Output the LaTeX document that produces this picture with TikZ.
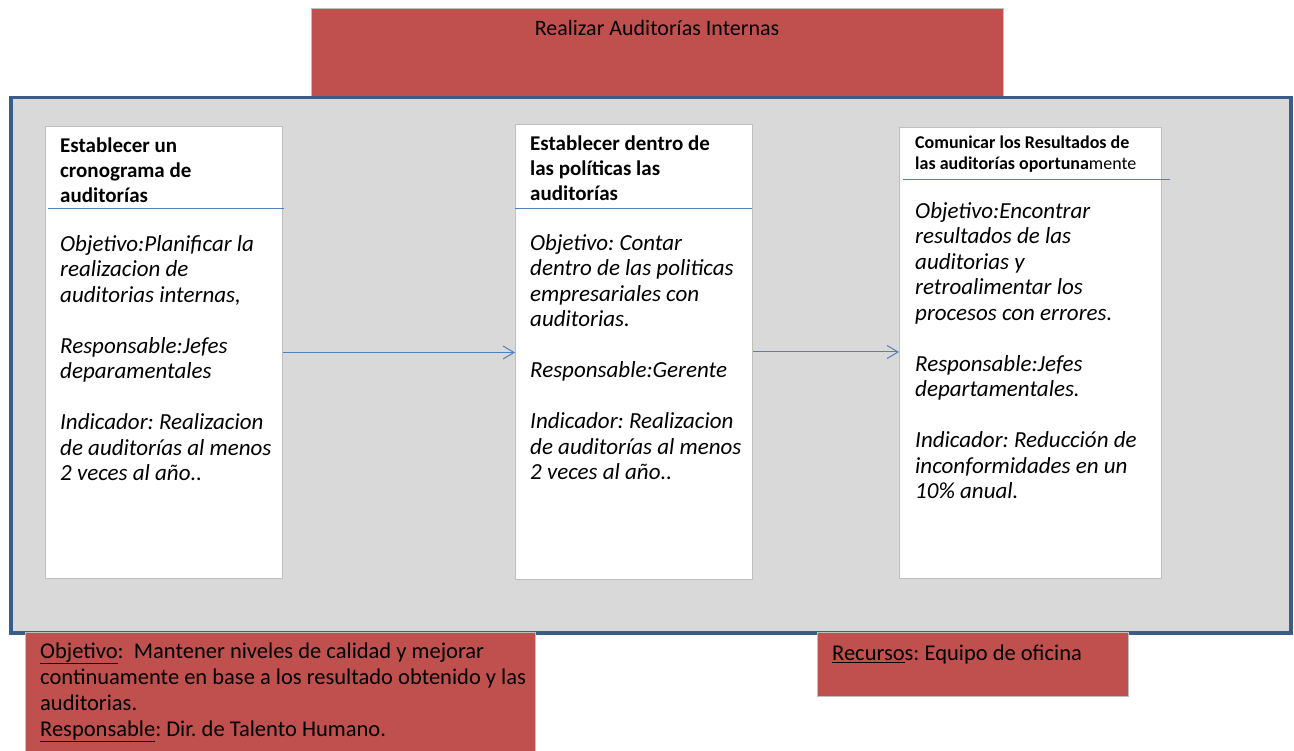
\documentclass[tikz,border=0pt]{standalone}
\usepackage{fontspec}
\setmainfont{Carlito}
\usetikzlibrary{positioning, arrows.meta}

\definecolor{rojoCaja}{HTML}{C0504D}
\definecolor{grisFondo}{HTML}{D9D9D9}
\definecolor{grisBorde}{HTML}{BFBFBF}
\definecolor{azulMarco}{HTML}{385D8A}
\definecolor{azulLinea}{HTML}{4F81BD}

\frenchspacing

\begin{document}
\begin{tikzpicture}[
  x=1pt, y=-1pt,
  caja/.style={rectangle, draw=grisBorde, line width=1pt, fill=white, anchor=north west, inner sep=0pt},
  rojo/.style={rectangle, draw=grisBorde, line width=1pt, fill=rojoCaja, anchor=north west, inner sep=0pt},
  marco/.style={rectangle, draw=azulMarco, line width=3.5pt, fill=grisFondo, anchor=north west, inner sep=0pt},
  titulo/.style={anchor=north west, inner sep=0pt, align=left, font=\fontsize{21}{25}\selectfont\bfseries},
  texto/.style={anchor=north west, inner sep=0pt, align=left, font=\fontsize{23}{25.5}\selectfont\itshape},
  nota/.style={anchor=north west, inner sep=0pt, align=left, font=\fontsize{22.5}{26}\selectfont},
  linea/.style={draw=azulLinea, line width=1pt},
  flecha/.style={draw=azulLinea, line width=1pt, -{Straight Barb[length=11pt, width=13pt]}}
]
\useasboundingbox (0,0) rectangle (1294,751);

% === PROCESO ===
\node[rojo, minimum width=692pt, minimum height=90pt] (proceso) at (311,8) {};
\node[anchor=north, inner sep=0pt, font=\fontsize{22}{26}\selectfont] (procesoTit) at (657,20) {Realizar Auditorías Internas};

% === MARCO ===
\node[marco, minimum width=1280pt, minimum height=535pt] (marco) at (9,96) {};

% === ACTIVIDADES ===
\node[caja, minimum width=237pt, minimum height=452pt] (cronograma) at (45,126) {};
\node[caja, minimum width=237pt, minimum height=455pt] (politicas) at (515,124) {};
\node[caja, minimum width=262pt, minimum height=451pt] (resultados) at (899,127) {};

\draw[linea] (48,209) -- (284,209);
\draw[linea] (515,209) -- (752,209);
\draw[linea] (903,180) -- (1170,180);

% === TEXTOS ACTIVIDADES ===
\node[titulo] (cronogramaTit) at (60,137.5) {Establecer un\\cronograma de\\auditorías};
\node[texto] (cronogramaTxt) at (60,235) {Objetivo:Planificar la\\realizacion de\\auditorias internas,\\[25.5pt]Responsable:Jefes\\deparamentales\\[25.5pt]Indicador: Realizacion\\de auditorías al menos\\2 veces al año..};

\node[titulo] (politicasTit) at (530,135.5) {Establecer dentro de\\las políticas las\\auditorías};
\node[texto] (politicasTxt) at (530,234) {Objetivo: Contar\\dentro de las politicas\\empresariales con\\auditorias.\\[25.5pt]Responsable:Gerente\\[25.5pt]Indicador: Realizacion\\de auditorías al menos\\2 veces al año..};

\node[titulo, font=\fontsize{18}{21}\selectfont\bfseries] (resultadosTit) at (915,135.5) {Comunicar los Resultados de\\las auditorías oportuna\textmd{mente}};
\node[texto] (resultadosTxt) at (915,202) {Objetivo:Encontrar\\resultados de las\\auditorias y\\retroalimentar los\\procesos con errores.\\[25.5pt]Responsable:Jefes\\departamentales.\\[25.5pt]Indicador: Reducción de\\inconformidades en un\\10\% anual.};

% === FLUJO ===
\draw[flecha] (cronograma.east) -- (cronograma.east -| politicas.west);
\draw[flecha] (politicas.east) -- (politicas.east -| resultados.west);

% === OBJETIVO Y RECURSOS ===
\node[rojo, minimum width=510pt, minimum height=130pt] (objetivo) at (25,632) {};
\node[nota] (objetivoTxt) at (40,642.5) {\underline{Objetivo}:\ \ Mantener niveles de calidad y mejorar\\continuamente en base a los resultado obtenido y las\\auditorias.\\\underline{Responsable}: Dir. de Talento Humano.};

\node[rojo, minimum width=311pt, minimum height=64pt] (recursos) at (817,632) {};
\node[nota] (recursosTxt) at (832,644.5) {\underline{Recurso}s: Equipo de oficina};

\end{tikzpicture}
\end{document}
